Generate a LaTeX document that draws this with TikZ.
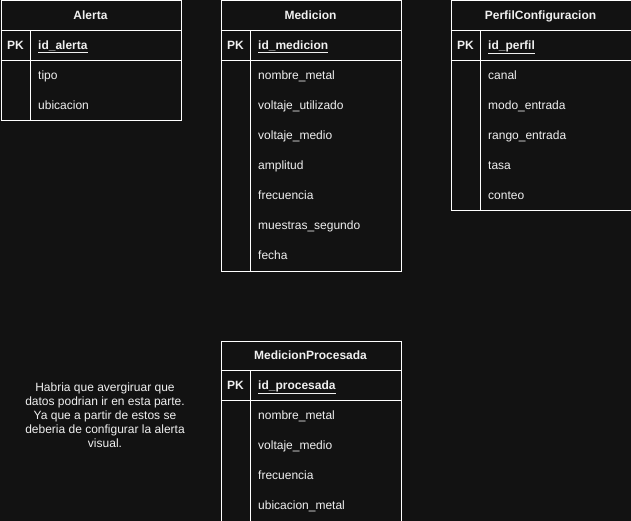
\documentclass[tikz,border=0pt]{standalone}
\usepackage{fontspec}
\setmainfont{Liberation Sans}
\definecolor{bg}{RGB}{18,18,18}
\definecolor{fg}{RGB}{240,240,240}
\begin{document}
\begin{tikzpicture}[x=1pt,y=-1pt,
  tbl/.style={draw=white, line width=1pt, fill=bg, anchor=north west, inner sep=0pt},
  sep/.style={draw=white, line width=1pt},
  hdr/.style={font=\fontsize{12}{14}\selectfont\bfseries, text=fg, inner sep=0pt, anchor=base},
  pk/.style={font=\fontsize{12}{14}\selectfont\bfseries, text=fg, inner sep=0pt, anchor=base},
  fld/.style={font=\fontsize{12}{14}\selectfont, text=fg, anchor=base west, inner sep=0pt},
  idf/.style={fld, font=\fontsize{12}{14}\selectfont\bfseries},
  note/.style={font=\fontsize{12}{14}\selectfont, text=fg, align=center, inner sep=0pt}]
\fill[bg] (0,0) rectangle (631,521);
\useasboundingbox (0,0) rectangle (631,521);

% ---- Alerta
\node[tbl, minimum width=180pt, minimum height=120pt] (alerta) at (0.5,0.5) {};
\draw[sep] (0.5,30.5) -- (180.5,30.5);
\draw[sep] (0.5,60.5) -- (180.5,60.5);
\draw[sep] (30.5,30.5) -- (30.5,120.5);
\node[hdr] (alertaH) at (90.5,19.5) {Alerta};
\node[pk] (alertaPK) at (15.5,49.5) {PK};
\node[idf] (alertaId) at (38,49.5) {\underline{id\_alerta}};
\node[fld] (alertaF1) at (38,79.5) {tipo};
\node[fld] (alertaF2) at (38,109.5) {ubicacion};

% ---- Medicion
\node[tbl, minimum width=180pt, minimum height=270pt] (med) at (220.5,0.5) {};
\draw[sep] (220.5,30.5) -- (400.5,30.5);
\draw[sep] (220.5,60.5) -- (400.5,60.5);
\draw[sep] (250.5,30.5) -- (250.5,270.5);
\node[hdr] (medH) at (310.5,19.5) {Medicion};
\node[pk] (medPK) at (235.5,49.5) {PK};
\node[idf] (medId) at (258,49.5) {\underline{id\_medicion}};
\node[fld] (medF1) at (258,79.5) {nombre\_metal};
\node[fld] (medF2) at (258,109.5) {voltaje\_utilizado};
\node[fld] (medF3) at (258,139.5) {voltaje\_medio};
\node[fld] (medF4) at (258,169.5) {amplitud};
\node[fld] (medF5) at (258,199.5) {frecuencia};
\node[fld] (medF6) at (258,229.5) {muestras\_segundo};
\node[fld] (medF7) at (258,259.5) {fecha};

% ---- PerfilConfiguracion
\node[tbl, minimum width=180pt, minimum height=210pt] (perf) at (450.5,0.5) {};
\draw[sep] (450.5,30.5) -- (630.5,30.5);
\draw[sep] (450.5,60.5) -- (630.5,60.5);
\draw[sep] (480.5,30.5) -- (480.5,210.5);
\node[hdr] (perfH) at (540.5,19.5) {PerfilConfiguracion};
\node[pk] (perfPK) at (465.5,49.5) {PK};
\node[idf] (perfId) at (488,49.5) {\underline{id\_perfil}};
\node[fld] (perfF1) at (488,79.5) {canal};
\node[fld] (perfF2) at (488,109.5) {modo\_entrada};
\node[fld] (perfF3) at (488,139.5) {rango\_entrada};
\node[fld] (perfF4) at (488,169.5) {tasa};
\node[fld] (perfF5) at (488,199.5) {conteo};

% ---- MedicionProcesada
\node[tbl, minimum width=180pt, minimum height=180pt] (proc) at (220.5,340.5) {};
\draw[sep] (220.5,370.5) -- (400.5,370.5);
\draw[sep] (220.5,400.5) -- (400.5,400.5);
\draw[sep] (250.5,370.5) -- (250.5,520.5);
\node[hdr] (procH) at (310.5,359.5) {MedicionProcesada};
\node[pk] (procPK) at (235.5,389.5) {PK};
\node[idf] (procId) at (258,389.5) {\underline{id\_procesada}};
\node[fld] (procF1) at (258,419.5) {nombre\_metal};
\node[fld] (procF2) at (258,449.5) {voltaje\_medio};
\node[fld] (procF3) at (258,479.5) {frecuencia};
\node[fld] (procF4) at (258,509.5) {ubicacion\_metal};

% ---- note
\node[note] (nota) at (105,415) {Habria que avergiruar que\\datos podrian ir en esta parte.\\Ya que a partir de estos se\\deberia de configurar la alerta\\visual.};
\end{tikzpicture}
\end{document}
